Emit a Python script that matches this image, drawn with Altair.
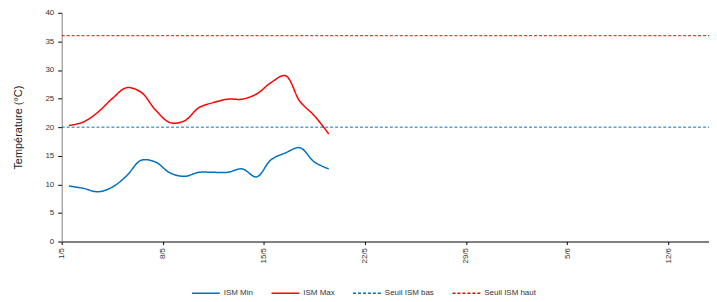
import altair as alt
import pandas as pd

# ---- data ----
dates = [f"2024-05-{d:02d}T12:00:00" for d in range(1, 20)]
ism_min = [9.7, 9.3, 8.7, 9.5, 11.5, 14.2, 13.9, 12.0, 11.4, 12.1,
           12.1, 12.1, 12.7, 11.3, 14.3, 15.5, 16.4, 13.9, 12.7]
ism_max = [20.3, 20.9, 22.6, 25.0, 26.9, 26.1, 23.0, 20.8, 21.1, 23.4,
           24.3, 24.9, 24.9, 25.8, 27.8, 29.0, 24.5, 22.0, 18.8]
seuil_bas = 20
seuil_haut = 36
x_start = "2024-05-01T00:00:00"
x_end = "2024-06-14T20:00:00"
tick_dates = ["2024-05-01", "2024-05-08", "2024-05-15", "2024-05-22",
              "2024-05-29", "2024-06-05", "2024-06-12"]
series_names = ["ISM Min", "ISM Max", "Seuil ISM bas", "Seuil ISM haut"]
series_colors = ["#0070C0", "#FF0000", "#0070C0", "#FF0000"]

rows = []
for d, v in zip(dates, ism_min):
    rows.append({"date": d, "value": v, "serie": "ISM Min"})
for d, v in zip(dates, ism_max):
    rows.append({"date": d, "value": v, "serie": "ISM Max"})
for d in (x_start, x_end):
    rows.append({"date": d, "value": seuil_bas, "serie": "Seuil ISM bas"})
    rows.append({"date": d, "value": seuil_haut, "serie": "Seuil ISM haut"})
df = pd.DataFrame(rows)

def dt(s):
    y, m, d = s[:10].split("-")
    return alt.DateTime(year=int(y), month=int(m), date=int(d))

FONT = "Liberation Sans"

def make_legend():
    return alt.Legend(title=None, orient="none", direction="horizontal",
                      legendX=130, legendY=267,
                      symbolType="stroke", symbolSize=784,
                      symbolStrokeWidth=1.5, labelFontSize=8,
                      labelFont=FONT, labelColor="#333333",
                      labelOffset=3, columnPadding=15, padding=0)

chart = alt.Chart(df).mark_line(interpolate="catmull-rom").encode(
    x=alt.X("date:T",
            scale=alt.Scale(domain=[x_start, x_end], nice=False),
            axis=alt.Axis(title=None, values=[dt(t) for t in tick_dates],
                          format="%-d/%-m", labelAngle=-90, grid=False,
                          domainColor="#000000", tickColor="#000000",
                          tickSize=3, labelPadding=3, labelFontSize=8,
                          labelColor="#333333", labelFont=FONT,
                          labelFlush=False, labelOverlap=False)),
    y=alt.Y("value:Q",
            scale=alt.Scale(domain=[0, 40], nice=False),
            axis=alt.Axis(title="Température (°C)", values=list(range(0, 41, 5)),
                          grid=False, domainColor="#808080", tickColor="#000000",
                          tickSize=4, labelPadding=4, labelFontSize=8,
                          labelColor="#333333", labelFont=FONT,
                          titleFont=FONT, titleFontSize=11, titleFontWeight="normal",
                          titleColor="#222222", titlePadding=22)),
    color=alt.Color("serie:N",
                    scale=alt.Scale(domain=series_names, range=series_colors),
                    legend=make_legend()),
    strokeDash=alt.StrokeDash("serie:N",
                              scale=alt.Scale(domain=series_names,
                                              range=[[1, 0], [1, 0], [3, 2], [3, 2]]),
                              legend=make_legend()),
    strokeWidth=alt.condition("datum.serie == 'ISM Min' || datum.serie == 'ISM Max'",
                              alt.value(1.5), alt.value(1)),
    detail="serie:N",
).properties(
    width=651, height=230,
    background="white",
    autosize=alt.AutoSizeParams(type="none"),
    padding={"left": 54, "top": 4, "right": 0, "bottom": 60},
).configure_view(stroke=None)

chart.save("out.html", embed_options={"renderer": "svg", "actions": False})
